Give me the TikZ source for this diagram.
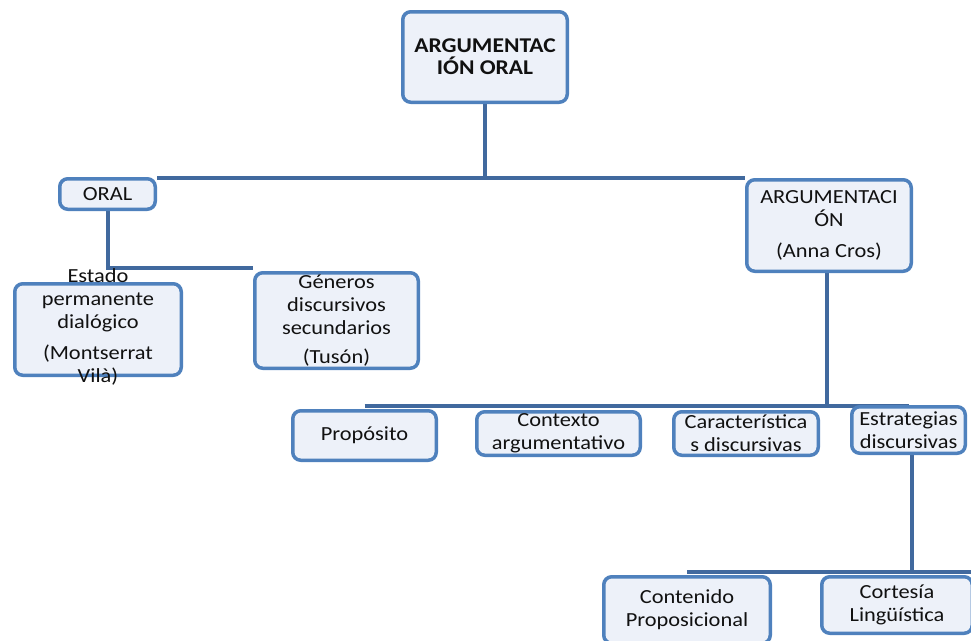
\documentclass[tikz,border=0pt]{standalone}
\usepackage{fontspec}
\setmainfont{Carlito}[FakeStretch=1.12]
\usetikzlibrary{backgrounds}
\definecolor{boxline}{HTML}{4F81BD}
\definecolor{boxfill}{HTML}{EDF1F9}
\definecolor{linkcol}{HTML}{41699E}
\definecolor{txt}{HTML}{111111}
\tikzset{
  card/.style={draw=boxline, fill=boxfill, line width=3.5pt, rounded corners=8pt,
    inner sep=0pt, align=center, text=txt,
    font=\fontsize{20}{23}\selectfont},
  label/.style={inner sep=0pt, align=center, text=txt,
    font=\fontsize{20}{23}\selectfont},
  conn/.style={draw=linkcol, line width=4pt},
}
\begin{document}
\begin{tikzpicture}[x=1pt,y=-1pt]
\useasboundingbox (0,0) rectangle (971,640);
\clip (0,0) rectangle (971,640);

% level 0
\node[card, minimum width=164.5pt, minimum height=90.5pt, font=\bfseries\fontsize{21}{22}\selectfont]
  (top) at (485,57) {ARGUMENTAC\\IÓN ORAL};

% level 1
\node[card, minimum width=95.5pt, minimum height=30.5pt] (oral) at (107.5,194) {ORAL};
\node[card, minimum width=164.5pt, minimum height=91.5pt] (arg) at (829,225.5)
  {ARGUMENTACI\\ÓN\\[8pt](Anna Cros)};

% ORAL branch
\node[card, minimum width=166.5pt, minimum height=91.5pt] (estado) at (98,329.5) {};
\node[label] (estadotxt) at (98,327)
  {Estado\\permanente\\dialógico\\[8pt](Montserrat\\Vilà)};
\node[card, minimum width=163.5pt, minimum height=95.5pt] (generos) at (336.5,320.5)
  {Géneros\\discursivos\\secundarios\\[6pt](Tusón)};

% ARGUMENTACIÓN branch
\node[card, minimum width=143.5pt, minimum height=49.5pt] (proposito) at (364.5,435.5) {Propósito};
\node[card, minimum width=163.5pt, minimum height=43.5pt] (contexto) at (558.5,433.5)
  {Contexto\\argumentativo};
\node[card, minimum width=144.5pt, minimum height=43.5pt] (caract) at (746,433.5)
  {Característica\\s discursivas};
\node[card, minimum width=113.5pt, minimum height=46.5pt] (estrat) at (908.5,430)
  {Estrategias\\discursivas};

% Estrategias branch
\node[card, minimum width=166.5pt, minimum height=66.5pt] (contenido) at (687,610)
  {Contenido\\Proposicional};
\node[card, minimum width=150.5pt, minimum height=56.5pt] (cortesia) at (897,605)
  {Cortesía\\Lingüística};

% connectors, behind the boxes
\coordinate (bus1) at (485,178);
\coordinate (bus2) at (107,268);
\coordinate (bus3) at (827,406);
\coordinate (bus4) at (912,572);
\begin{scope}[on background layer]
  \draw[conn] (top) -- (bus1);
  \draw[conn] (oral.east |- bus1) -- (arg.west |- bus1);
  \draw[conn] (oral) -- (oral |- bus2) -- (generos.west |- bus2);
  \draw[conn] (arg.south -| bus3) -- (bus3);
  \draw[conn] (proposito |- bus3) -- (estrat |- bus3);
  \draw[conn] (estrat.south -| bus4) -- (bus4);
  \draw[conn] (contenido |- bus4) -- (cortesia.east |- bus4);
\end{scope}
\end{tikzpicture}
\end{document}
